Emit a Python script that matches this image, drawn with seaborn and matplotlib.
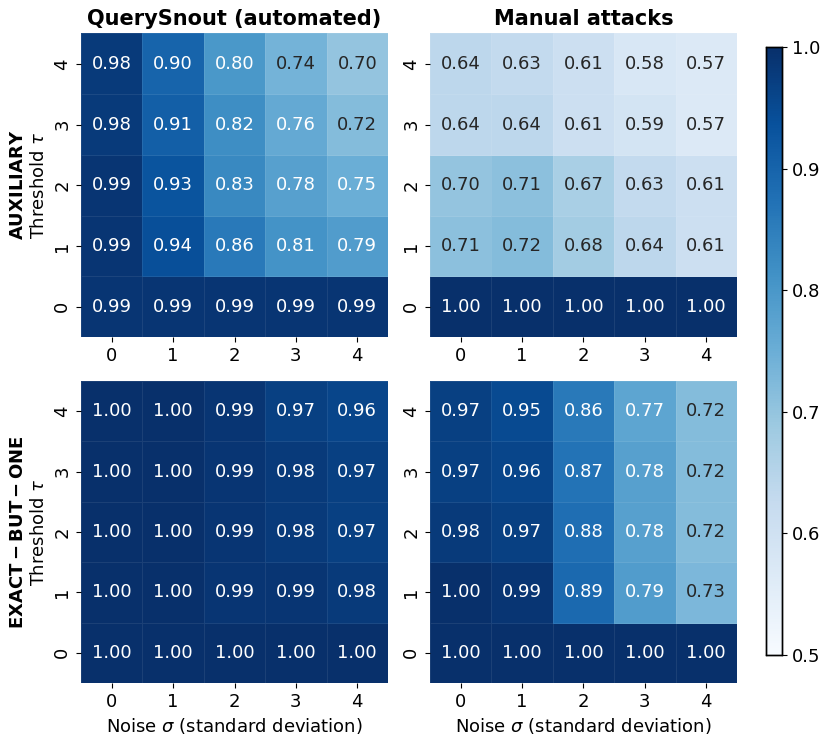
import numpy as np
import pandas as pd
import matplotlib
matplotlib.use("Agg")
import matplotlib.pyplot as plt
import seaborn as sns

plt.rcParams['font.family'] = ['DejaVu Sans']
plt.rcParams['mathtext.fontset'] = 'dejavusans'

# rows: threshold 0..4, cols: noise 0..4
noise = [0, 1, 2, 3, 4]
thresholds = [0, 1, 2, 3, 4]

qs_aux = [[0.99, 0.99, 0.99, 0.99, 0.99],
          [0.99, 0.94, 0.86, 0.81, 0.79],
          [0.99, 0.93, 0.83, 0.78, 0.75],
          [0.98, 0.91, 0.82, 0.76, 0.72],
          [0.98, 0.90, 0.80, 0.74, 0.70]]

man_aux = [[1.00, 1.00, 1.00, 1.00, 1.00],
           [0.71, 0.72, 0.68, 0.64, 0.61],
           [0.70, 0.71, 0.67, 0.63, 0.61],
           [0.64, 0.64, 0.61, 0.59, 0.57],
           [0.64, 0.63, 0.61, 0.58, 0.57]]

qs_ebo = [[1.00, 1.00, 1.00, 1.00, 1.00],
          [1.00, 1.00, 0.99, 0.99, 0.98],
          [1.00, 1.00, 0.99, 0.98, 0.97],
          [1.00, 1.00, 0.99, 0.98, 0.97],
          [1.00, 1.00, 0.99, 0.97, 0.96]]

man_ebo = [[1.00, 1.00, 1.00, 1.00, 1.00],
           [1.00, 0.99, 0.89, 0.79, 0.73],
           [0.98, 0.97, 0.88, 0.78, 0.72],
           [0.97, 0.96, 0.87, 0.78, 0.72],
           [0.97, 0.95, 0.86, 0.77, 0.72]]

fs = 13

fig = plt.figure(figsize=(8.31, 7.45), dpi=100)
ax_tl = fig.add_axes([0.0975, 0.5477, 0.3694, 0.4074])
ax_tr = fig.add_axes([0.5174, 0.5477, 0.3694, 0.4074])
ax_bl = fig.add_axes([0.0975, 0.0832, 0.3694, 0.4054])
ax_br = fig.add_axes([0.5174, 0.0832, 0.3694, 0.4054])
cax = fig.add_axes([0.9218, 0.1208, 0.0193, 0.8161])

panels = [(ax_tl, qs_aux), (ax_tr, man_aux), (ax_bl, qs_ebo), (ax_br, man_ebo)]
for i, (ax, vals) in enumerate(panels):
    df = pd.DataFrame(vals, index=thresholds, columns=noise)
    sns.heatmap(df, ax=ax, cmap="Blues", vmin=0.5, vmax=1.0, annot=True, fmt=".2f",
                annot_kws={"fontsize": fs}, cbar=(i == 0), cbar_ax=cax if i == 0 else None,
                linewidths=0.5, linecolor=(1, 1, 1, 0.08))
    ax.invert_yaxis()
    ax.tick_params(labelsize=fs)
    ax.set_xlabel("")
    ax.set_ylabel("")

ax_tl.set_title("QuerySnout (automated)", fontsize=15, fontweight="bold")
ax_tr.set_title("Manual attacks", fontsize=15, fontweight="bold")
ax_tl.set_ylabel(r"$\bf{AUXILIARY}$" + "\n" + r"Threshold $\tau$", fontsize=fs)
ax_bl.set_ylabel(r"$\bf{EXACT-BUT-ONE}$" + "\n" + r"Threshold $\tau$", fontsize=fs)
ax_bl.set_xlabel(r"Noise $\sigma$ (standard deviation)", fontsize=fs)
ax_br.set_xlabel(r"Noise $\sigma$ (standard deviation)", fontsize=fs)

cax.tick_params(labelsize=fs)
for s in cax.spines.values():
    s.set_visible(True)
    s.set_color("black")
    s.set_linewidth(1)

fig.savefig("out.png", dpi=100)
